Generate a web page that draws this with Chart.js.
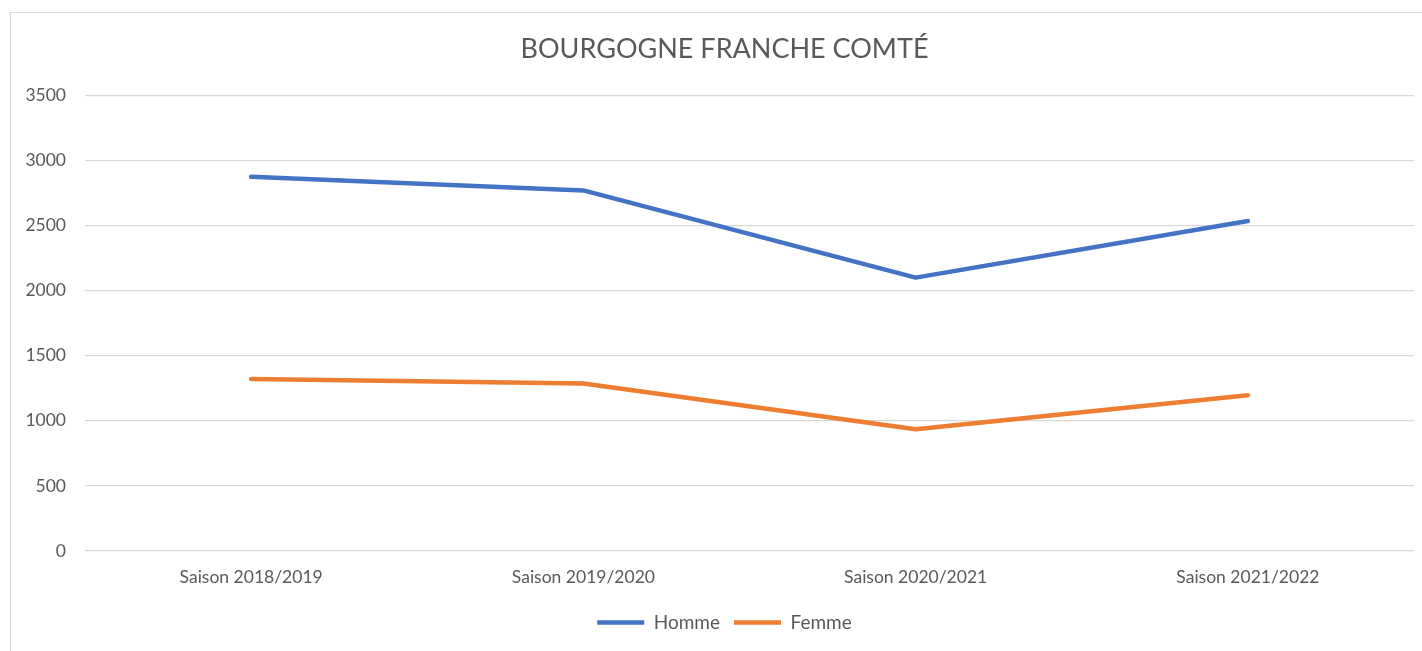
<!DOCTYPE html>
<html>
<head>
<meta charset="utf-8">
<script src="https://cdn.jsdelivr.net/npm/chart.js@4"></script>
<style>
  body { margin: 0; background: #fff; }
  #cadre {
    position: absolute; left: 10px; top: 12px;
    width: 1420px; height: 650px;
    border: 1px solid #d9d9d9; box-sizing: border-box;
  }
  #cadre canvas { display: block; }
</style>
</head>
<body>
<div id="cadre"><canvas id="graphique" width="1418" height="648"></canvas></div>
<script>
// Données
var saisons = ['Saison 2018/2019', 'Saison 2019/2020', 'Saison 2020/2021', 'Saison 2021/2022'];
var homme = [2875, 2770, 2100, 2535];
var femme = [1322, 1287, 936, 1197];
var titre = 'BOURGOGNE FRANCHE COMTÉ';

var gris = '#595959';
var police = 'Lato, "Open Sans", sans-serif';

// Excel centre le titre et la légende un peu plus à droite que Chart.js
var decalage = {
    id: 'decalage',
    afterLayout: function(chart) {
        var t = chart.titleBlock, l = chart.legend;
        if (t) { t.left += 12; t.right += 12; }
        if (l) { l.left += 12; l.right += 12; l.top -= 5; l.bottom -= 5; }
    }
};

document.addEventListener('DOMContentLoaded', function() {
    var ctx = document.getElementById('graphique').getContext('2d');
    new Chart(ctx, {
        type: 'line',
        data: {
            labels: saisons,
            datasets: [{
                label: 'Homme',
                data: homme,
                borderColor: '#4472C4',
                backgroundColor: '#4472C4',
                borderWidth: 4.5,
                borderCapStyle: 'round',
                borderJoinStyle: 'round',
                pointRadius: 0,
                pointStyle: 'line',
                tension: 0
            }, {
                label: 'Femme',
                data: femme,
                borderColor: '#ED7D31',
                backgroundColor: '#ED7D31',
                borderWidth: 4.5,
                borderCapStyle: 'round',
                borderJoinStyle: 'round',
                pointRadius: 0,
                pointStyle: 'line',
                tension: 0
            }]
        },
        options: {
            responsive: false,
            animation: false,
            layout: { padding: { left: 0, right: 15, top: 0, bottom: 14 } },
            plugins: {
                title: {
                    display: true,
                    text: titre,
                    color: gris,
                    font: { family: police, size: 27, weight: 'normal' },
                    padding: { top: 20, bottom: 30 }
                },
                legend: {
                    position: 'bottom',
                    labels: {
                        color: gris,
                        font: { family: police, size: 19 },
                        usePointStyle: true,
                        pointStyleWidth: 47,
                        padding: 14
                    }
                },
                tooltip: { enabled: false }
            },
            scales: {
                x: {
                    offset: true,
                    grid: { display: false, drawTicks: false },
                    border: { display: false },
                    ticks: { color: gris, font: { family: police, size: 17.5 }, padding: 16 }
                },
                y: {
                    min: 0,
                    max: 3500,
                    ticks: {
                        stepSize: 500, color: gris, font: { family: police, size: 17.5 }, padding: 19,
                        callback: function(v) { return String(v); }
                    },
                    grid: { color: '#d9d9d9', lineWidth: 1.3, drawTicks: false },
                    border: { display: false },
                    afterFit: function(axe) { axe.width = 74; }
                }
            }
        },
        plugins: [decalage]
    });
});
</script>
</body>
</html>
